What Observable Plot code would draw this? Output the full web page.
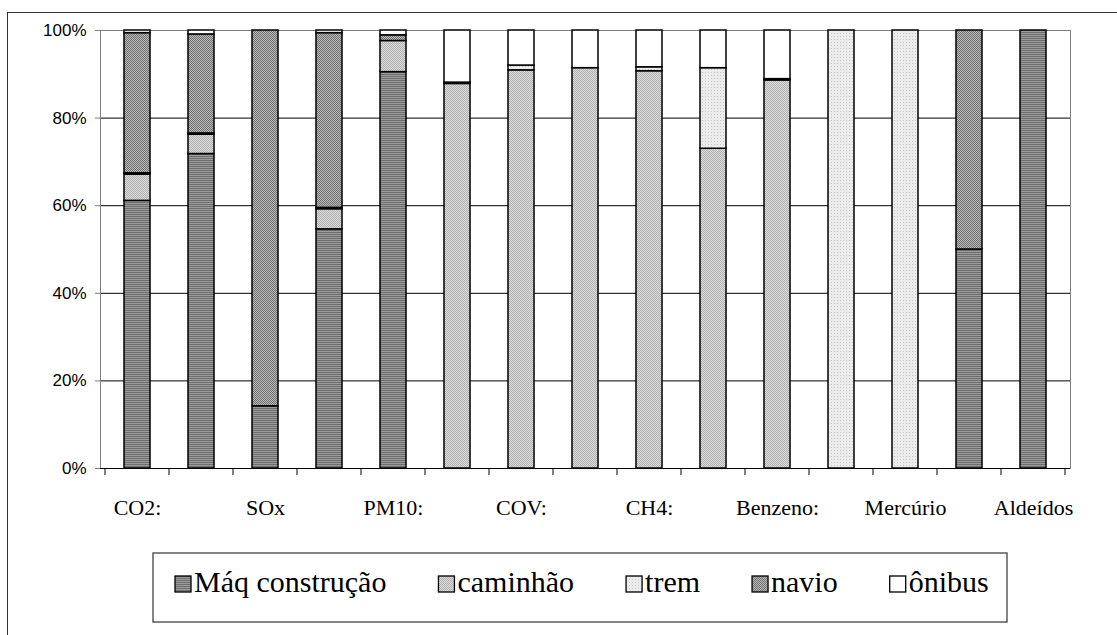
<!DOCTYPE html>
<html>
<head>
<meta charset="utf-8">
<script src="https://cdn.jsdelivr.net/npm/d3@7"></script>
<script src="https://cdn.jsdelivr.net/npm/@observablehq/plot@0.6"></script>
<style>
  html, body { margin: 0; padding: 0; background: #fff; }
  #wrap { position: relative; width: 1117px; height: 635px; overflow: hidden; }
  #frame { position: absolute; left: 7px; top: 12px; width: 1120px; height: 640px;
           border-left: 1px solid #333; border-top: 1px solid #333; }
  #chart { position: absolute; left: 0; top: 0; }
  #legend { position: absolute; left: 152px; top: 552px; }
</style>
</head>
<body>
<div id="wrap">
  <div id="frame"></div>
  <div id="chart"></div>
  <svg id="legend" width="857" height="72"></svg>
</div>
<script>
// ---- data (percent share of each pollutant by transport mode) ----
const tickLabels = ["CO2:", "", "SOx", "", "PM10:", "", "COV:", "", "CH4:", "", "Benzeno:", "", "Mercúrio", "", "Aldeídos"];
const series = ["Máq construção", "caminhão", "trem", "navio", "ônibus"];
const maq      = [61.1, 71.8, 14.2, 54.6, 90.5,  0,    0,    0,    0,    0,    0,    0,   0,   50, 100];
const caminhao = [ 6.0,  4.4,  0,    4.6,  7.1, 87.8, 90.9, 91.4, 90.7, 73.0, 88.6,  0,   0,    0,   0];
const trem     = [ 0.3,  0.3,  0,    0.3,  0,    0.3,  1.1,  0,    0.9, 18.4,  0.3, 100, 100,   0,   0];
const navio    = [32.0, 22.6, 85.8, 39.9,  1.3,  0,    0,    0,    0,    0,    0,    0,   0,   50,   0];
const onibus   = [ 0.6,  0.9,  0,    0.6,  1.1, 11.9,  8.0,  8.6,  8.4,  8.6, 11.1,  0,   0,    0,   0];
const yTicks = [0, 20, 40, 60, 80, 100];
const gridTicks = [20, 40, 60, 80];

const patternIds = ["p-maq", "p-cam", "p-trem", "p-navio", "p-onibus"];
const values = [maq, caminhao, trem, navio, onibus];

const rows = [];
tickLabels.forEach((_, i) => {
  series.forEach((s, k) => {
    const v = values[k][i];
    if (v > 0) rows.push({cat: i, series: s, value: v});
  });
});

const plot = Plot.plot({
  width: 1117,
  height: 540,
  marginLeft: 100,
  marginRight: 47,
  marginTop: 30,
  marginBottom: 72,
  style: {color: "#000", background: "transparent"},
  x: {type: "band", domain: d3.range(tickLabels.length), paddingInner: 0.6, paddingOuter: 0.3, axis: null, label: null},
  y: {domain: [0, 100], axis: null, label: null},
  color: {domain: series, range: patternIds.map(id => `url(#${id})`)},
  marks: [
    Plot.ruleY(gridTicks, {stroke: "#000", strokeWidth: 1}),
    Plot.frame({stroke: "#808080"}),
    Plot.ruleY([0], {stroke: "#000", strokeWidth: 1}),
    Plot.barY(rows, {x: "cat", y: "value", fill: "series", stroke: "#000", strokeWidth: 1.5}),
    Plot.axisY({ticks: yTicks, tickFormat: d => d + "%", tickSize: 5, tickPadding: 9, label: null,
                fontSize: 17, fontFamily: "Liberation Sans", stroke: "#808080"}),
    Plot.axisX({tickSize: 0, tickPadding: 31, tickFormat: i => tickLabels[i], label: null,
                fontSize: 22, fontFamily: "Liberation Serif"})
  ]
});

// pattern definitions (Excel-like fills)
const svg = d3.select(plot);
const defs = svg.insert("defs", ":first-child");
function pat(id, w, h, bg, cells) {
  const p = defs.append("pattern").attr("id", id).attr("patternUnits", "userSpaceOnUse")
    .attr("width", w).attr("height", h);
  p.append("rect").attr("width", w).attr("height", h).attr("fill", bg);
  cells.forEach(([x, y, cw, ch, c]) => p.append("rect").attr("x", x).attr("y", y).attr("width", cw).attr("height", ch).attr("fill", c));
}
pat("p-maq", 4, 2, "#9c9c9c", [[0, 0, 4, 1, "#6e6e6e"]]);
pat("p-cam", 2, 2, "#dadada", [[0, 0, 1, 1, "#b2b2b2"], [1, 1, 1, 1, "#b2b2b2"]]);
pat("p-trem", 3, 3, "#ececec", [[0, 0, 1, 1, "#c4c4c4"]]);
pat("p-navio", 2, 2, "#bcbcbc", [[0, 0, 1, 1, "#6e6e6e"], [1, 1, 1, 1, "#6e6e6e"]]);
pat("p-onibus", 2, 2, "#ffffff", []);

// category boundary tick marks on the x axis (Excel style)
const xs = plot.scale("x");
const ys = plot.scale("y");
const gap = xs.step - xs.bandwidth;
const y0 = ys.apply(0);
const bounds = d3.range(tickLabels.length + 1).map(i =>
  i < tickLabels.length ? xs.apply(i) - gap / 2 : xs.apply(i - 1) + xs.bandwidth + gap / 2);
svg.append("g").selectAll("line").data(bounds).join("line")
  .attr("x1", d => d).attr("x2", d => d).attr("y1", y0).attr("y2", y0 + 7)
  .attr("stroke", "#000").attr("stroke-width", 1);

document.getElementById("chart").appendChild(plot);

// legend (SVG, serif text)
const lg = d3.select("#legend");
lg.append("rect").attr("x", 1).attr("y", 1).attr("width", 854).attr("height", 69)
  .attr("fill", "#fff").attr("stroke", "#333").attr("stroke-width", 1.2);
let cx = 23;
series.forEach((s, k) => {
  lg.append("rect").attr("x", cx).attr("y", 24).attr("width", 16).attr("height", 16)
    .attr("fill", `url(#${patternIds[k]})`).attr("stroke", "#000").attr("stroke-width", 1.3);
  const t = lg.append("text").attr("x", cx + 19).attr("y", 40)
    .attr("font-family", "Liberation Serif").attr("font-size", 30).attr("fill", "#000").text(s);
  cx += 19 + t.node().getComputedTextLength() + 52;
});
</script>
</body>
</html>
